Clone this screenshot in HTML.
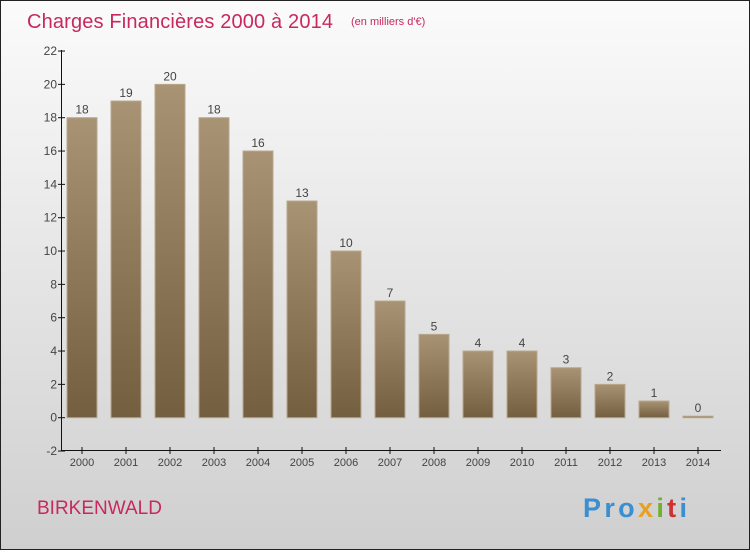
<!DOCTYPE html>
<html><head><meta charset="utf-8"><style>
body{margin:0;width:750px;height:550px;overflow:hidden}
#wrap{position:relative;width:748px;height:548px;border:1px solid #222;background:linear-gradient(#fbfbfb,#cfcfcf)}
text{font-family:"Liberation Sans",sans-serif}
</style></head><body>
<div id="wrap">
<svg id="svg" width="748" height="548">
<defs><linearGradient id="bg" x1="0" y1="0" x2="0" y2="1"><stop offset="0" stop-color="#a89474"/><stop offset="1" stop-color="#735f40"/></linearGradient></defs>
<text x="26" y="27" font-size="20" fill="#c8285e" textLength="306">Charges Financières 2000 à 2014</text>
<text x="350" y="24" font-size="11" fill="#c8285e">(en milliers d'€)</text>
<text x="36" y="513" font-size="19" fill="#c8285e">BIRKENWALD</text>
<text x="582" y="516" font-size="27" font-weight="bold" fill="#3a8fd0" textLength="104">Pro<tspan fill="#e8a020">x</tspan><tspan fill="#70b030">i</tspan><tspan fill="#d03030">t</tspan><tspan fill="#3a8fd0">i</tspan></text>
<g id="plot"></g>
</svg></div>
<script>
const years=["2000","2001","2002","2003","2004","2005","2006","2007","2008","2009","2010","2011","2012","2013","2014"];
const values=[18,19,20,18,16,13,10,7,5,4,4,3,2,1,0];
const yTicks=[-2,0,2,4,6,8,10,12,14,16,18,20,22];
const ns="http://www.w3.org/2000/svg";
const g=document.getElementById('plot');
const y=v=>416.7-(v)*(400/24);
const x=i=>81+i*44;
function mk(t,a){const e=document.createElementNS(ns,t);for(const k in a)e.setAttribute(k,a[k]);g.appendChild(e);return e;}
let ax=mk('line',{x1:60.5,y1:49,x2:60.5,y2:449.5,stroke:'#111'});


let bx=mk('line',{x1:60,y1:449.5,x2:720,y2:449.5,stroke:'#111'});


yTicks.forEach(v=>{
 const l=mk('line',{x1:57,x2:64,y1:y(v),y2:y(v),stroke:'#111'});
 
 
 const t=mk('text',{x:56,y:y(v)+4,'text-anchor':'end','font-size':12,fill:'#444'});
 t.textContent=v;
 
 
});
years.forEach((yr,i)=>{
 const v=values[i];
 const top=y(Math.max(v,0)),h=Math.max(Math.abs(y(0)-y(v)),1.5);
 const r=mk('rect',{x:x(i)-15,y:v>0?top:y(0)-1.5,width:30,height:h,fill:'url(#bg)',stroke:'#b8a88c','stroke-width':1});
 
 
 const vl=mk('text',{x:x(i),y:(v>0?top:y(0)-1.5)-4,'text-anchor':'middle','font-size':12,fill:'#444'});
 vl.textContent=v;
 
 
 const tk=mk('line',{x1:x(i),x2:x(i),y1:446,y2:453,stroke:'#111'});
 
 
 const xl=mk('text',{x:x(i),y:465,'text-anchor':'middle','font-size':11,fill:'#444'});
 xl.textContent=yr;
 
 
});
</script>
</body></html>
